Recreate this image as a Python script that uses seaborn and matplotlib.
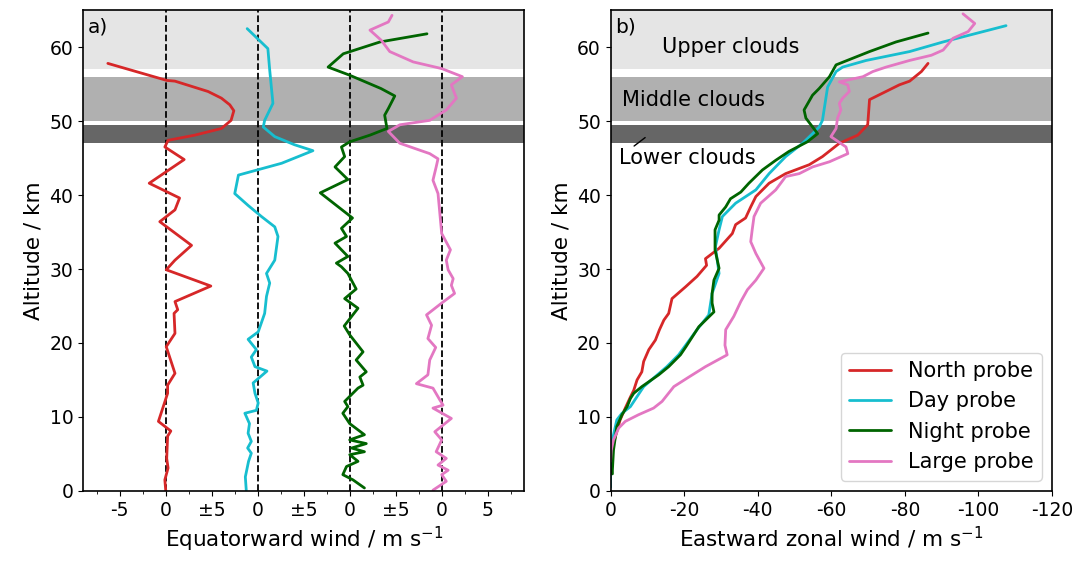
import numpy as np
import pandas as pd
import seaborn as sns
import matplotlib.pyplot as plt
from matplotlib.ticker import MultipleLocator

# Probe names and colours
probes = ['North probe', 'Day probe', 'Night probe', 'Large probe']
colors = ['#d62728', '#17becf', '#006400', '#e377c2']
offsets = [0, 10, 20, 30]

# Equatorward wind profiles (m/s) vs altitude (km)
north_eq_alt = [57.8, 55.5, 55.4, 54.0, 53.1, 52.2, 51.4, 50.1, 49.0, 48.1, 47.4, 46.5, 44.8, 41.6, 39.6,
                38.0, 36.4, 33.2, 31.2, 29.9, 27.7, 25.6, 24.5, 24.0, 21.3, 19.5, 15.9, 14.3, 13.2, 9.4,
                8.1, 7.4, 4.4, 3.1, 1.5, 0.0]
north_eq = [-6.3, 0.1, 1.0, 4.6, 6.05, 6.96, 7.4, 7.1, 6.05, 3.15, 0.25, -0.1, 2.0, -1.8, 1.5,
            1.0, -0.65, 2.8, 1.0, 0.05, 4.9, 1.0, 1.3, 0.9, 1.0, 0.05, 1.0, 0.2, 0.2, -0.8,
            0.55, 0.2, 0.1, 0.25, -0.1, 0.0]

day_eq_alt = [62.5, 59.8, 56.9, 52.4, 50.1, 49.2, 47.9, 46.8, 46.0, 44.3, 42.7, 40.2, 38.6, 37.1, 35.7,
              34.4, 31.2, 29.4, 28.1, 26.3, 24.0, 21.5, 20.5, 19.1, 18.1, 16.8, 16.2, 14.6, 13.2, 11.9,
              10.9, 10.5, 9.1, 7.8, 6.7, 5.8, 5.1, 4.0, 1.9, 0.1]
day_eq = [-1.15, 1.1, 1.3, 1.65, 0.75, 0.6, 1.85, 4.0, 6.0, 2.6, -2.1, -2.5, -1.05, 0.4, 1.85,
          2.2, 1.85, 0.95, 1.3, 0.95, 0.75, 0.05, -1.05, -0.15, -0.7, -0.3, 1.0, -0.5, -0.3, 0.05,
          -0.15, -1.4, -0.9, -1.05, -0.7, -1.1, -0.7, -1.0, -1.35, -1.25]

night_eq_alt = [61.8, 60.7, 59.1, 57.3, 56.2, 54.4, 53.4, 51.7, 50.8, 49.0, 48.1, 47.2, 46.5, 45.2, 43.8,
                42.1, 40.3, 36.9, 35.5, 34.4, 33.5, 31.7, 30.8, 30.3, 29.4, 27.3, 26.0, 24.7, 22.3, 21.1,
                18.8, 17.7, 16.1, 15.4, 14.3, 13.9, 12.1, 11.4, 10.5, 9.1, 7.6, 6.9, 6.4, 5.8, 5.3,
                4.9, 4.0, 3.3, 2.2, 1.5, 0.4]
night_eq = [8.4, 3.3, -0.7, -2.35, 0.0, 3.4, 4.9, 4.2, 3.8, 4.05, 2.2, 0.0, -0.9, -0.55, -1.6,
            -0.2, -3.2, 0.3, -0.9, -0.35, -1.6, -0.2, -1.45, -0.9, -0.2, 0.7, -0.55, 0.9, -0.6, 0.0,
            1.45, 0.7, 1.8, 1.1, 1.45, 0.9, -0.55, -0.2, -0.75, 0.0, 1.6, 0.0, 1.8, 0.2, 1.6,
            0.0, 0.9, -0.35, -0.75, 0.35, 1.6]

large_eq_alt = [64.3, 63.4, 62.3, 60.9, 59.4, 58.0, 57.1, 56.0, 54.9, 53.1, 51.5, 50.1, 49.5, 48.6, 47.0,
                45.6, 44.9, 43.8, 42.0, 40.2, 37.5, 34.8, 32.6, 31.2, 29.9, 28.7, 27.8, 26.7, 25.4, 23.8,
                22.4, 20.6, 19.4, 17.7, 15.7, 14.5, 13.9, 12.3, 11.6, 11.2, 9.8, 8.0, 6.9, 5.3, 4.4,
                3.5, 2.8, 2.2, 1.3, 0.1]
large_eq = [-5.4, -5.8, -7.8, -6.55, -5.65, -3.1, 0.0, 2.25, 1.05, 1.6, 0.5, -1.3, -4.55, -5.8, -4.55,
            -1.3, -0.4, -0.6, -0.95, -0.4, -0.2, 0.0, 0.95, 0.5, 0.7, 1.25, 1.05, 1.4, 0.0, -1.65,
            -1.1, -1.5, -0.65, -1.3, -1.5, -2.75, -0.95, -0.2, 0.15, -0.95, 1.05, -0.75, 0.0, -0.6, 0.5,
            -0.4, 0.7, 0.0, 0.5, -0.95]

# Eastward zonal wind profiles (m/s) vs altitude (km)
north_zon_alt = [57.8, 56.7, 55.4, 54.9, 52.9, 49.5, 48.1, 47.0, 45.2, 44.1, 42.9, 41.6, 39.8, 38.4, 36.9,
                 36.0, 34.8, 32.8, 31.4, 30.5, 29.0, 27.6, 26.0, 24.0, 23.1, 21.8, 20.4, 19.1, 17.5, 16.1,
                 15.0, 13.6, 12.7, 11.2, 9.6, 6.4, 3.7]
north_zon = [-86.3, -84.5, -81.3, -78.5, -70.4, -69.9, -67.2, -62.2, -57.6, -54.0, -47.6, -43.1, -39.5, -38.1, -36.7,
             -34.0, -33.1, -29.5, -25.8, -26.1, -23.5, -20.4, -16.7, -15.8, -14.5, -13.3, -12.2, -10.4, -9.0, -8.5,
             -7.2, -6.3, -5.4, -4.0, -2.6, -0.8, 0.0]

day_zon_alt = [62.9, 60.7, 59.4, 58.2, 57.3, 56.7, 54.6, 50.1, 49.2, 48.3, 47.0, 45.2, 42.9, 40.7, 38.9,
               37.1, 35.3, 33.0, 29.4, 26.7, 23.8, 21.8, 18.4, 16.8, 14.1, 11.4, 10.5, 9.6, 6.9, 4.0, 0.5]
day_zon = [-107.5, -90.4, -81.3, -69.5, -63.1, -61.3, -59.0, -57.6, -56.7, -54.9, -52.2, -47.6, -43.1, -39.5, -34.0,
           -30.4, -29.5, -28.5, -29.5, -27.6, -26.7, -23.5, -18.5, -15.3, -9.0, -5.4, -3.1, -1.7, -0.5, 0.0, 0.0]

night_zon_alt = [61.9, 60.7, 59.4, 57.6, 56.0, 54.4, 53.5, 51.5, 50.4, 48.3, 47.2, 45.9, 44.7, 43.4, 41.6,
                 40.4, 39.5, 38.4, 37.3, 36.6, 35.3, 32.6, 30.1, 28.5, 26.7, 25.4, 24.2, 22.2, 19.5, 18.4,
                 16.8, 15.7, 14.1, 13.2, 12.5, 11.4, 10.3, 8.7, 5.5, 2.8, 2.3]
night_zon = [-86.3, -77.6, -70.4, -61.3, -59.5, -56.7, -54.9, -52.6, -53.1, -56.3, -53.5, -48.5, -44.9, -41.3, -37.6,
             -35.4, -32.6, -31.3, -29.5, -29.5, -28.4, -28.4, -29.5, -28.1, -27.6, -27.6, -28.1, -24.0, -20.5, -19.0,
             -15.8, -13.1, -8.5, -6.3, -5.4, -4.5, -3.1, -1.7, -0.8, -0.5, -0.5]

large_zon_alt = [64.5, 63.2, 62.1, 61.2, 59.6, 58.9, 58.2, 57.3, 56.7, 56.0, 55.3, 54.9, 54.0, 53.1, 52.4,
                 51.5, 50.4, 49.0, 47.9, 46.5, 45.6, 44.5, 43.8, 42.9, 42.5, 40.7, 38.9, 37.1, 35.3, 33.7,
                 32.1, 30.1, 28.5, 27.2, 25.6, 23.6, 21.8, 19.7, 18.4, 16.8, 15.4, 14.1, 12.1, 11.2, 10.3,
                 9.4, 8.5, 6.9, 5.5, 4.0]
large_zon = [-95.8, -99.0, -97.2, -93.1, -90.4, -87.2, -81.3, -74.9, -71.3, -68.6, -62.2, -64.5, -64.9, -63.1, -62.2,
             -62.6, -61.7, -61.3, -59.9, -64.0, -64.5, -59.5, -54.9, -51.3, -47.6, -44.9, -40.8, -39.0, -38.5, -38.1,
             -39.5, -41.7, -39.5, -37.2, -35.4, -33.5, -31.3, -31.1, -31.7, -25.8, -21.3, -17.2, -14.0, -11.7, -7.6,
             -4.0, -2.2, -0.8, -0.2, 0.0]

eq_data = [(north_eq_alt, north_eq), (day_eq_alt, day_eq), (night_eq_alt, night_eq), (large_eq_alt, large_eq)]
zon_data = [(north_zon_alt, north_zon), (day_zon_alt, day_zon), (night_zon_alt, night_zon), (large_zon_alt, large_zon)]

# Cloud layers (km)
cloud_layers = [(57, 70, '#e5e5e5'), (50, 56, '#b0b0b0'), (47, 49.5, '#666666')]

sns.set_style('ticks')
plt.rcParams['font.family'] = ['DejaVu Sans']
plt.rcParams['axes.unicode_minus'] = False
for key in ['text.color', 'axes.labelcolor', 'xtick.color', 'ytick.color', 'axes.edgecolor']:
    plt.rcParams[key] = 'black'

fig, (ax1, ax2) = plt.subplots(1, 2, figsize=(10.85, 5.63), dpi=100)
fig.subplots_adjust(left=0.0765, right=0.9696, bottom=0.128, top=0.982, wspace=0.195)

for ax in (ax1, ax2):
    for lo, hi, c in cloud_layers:
        ax.axhspan(lo, hi, color=c, lw=0, zorder=0)

# Panel a: offset equatorward wind profiles
for off in offsets:
    ax1.axvline(off, color='black', ls='--', lw=1.3, zorder=1)
for (alt, v), off, name, c in zip(eq_data, offsets, probes, colors):
    sns.lineplot(x=np.array(v) + off, y=alt, sort=False, estimator=None,
                 color=c, lw=2, ax=ax1, zorder=3)

ax1.set_xlim(-9, 39)
ax1.set_ylim(0, 65)
ax1.set_xticks([-5, 0, 5, 10, 15, 20, 25, 30, 35])
ax1.set_xticklabels(['-5', '0', '±5', '0', '±5', '0', '±5', '0', '5'])
ax1.xaxis.set_minor_locator(MultipleLocator(2.5))
ax1.set_yticks(range(0, 61, 10))
ax1.set_xlabel('Equatorward wind / m s$^{-1}$', fontsize=15.5)
ax1.set_ylabel('Altitude / km', fontsize=15.5)
ax1.text(0.01, 0.985, 'a)', transform=ax1.transAxes, ha='left', va='top', fontsize=14.5)

# Panel b: zonal wind
df_zon = pd.concat([pd.DataFrame({'alt': alt, 'u': u, 'probe': name})
                    for (alt, u), name in zip(zon_data, probes)], ignore_index=True)
sns.lineplot(data=df_zon, x='u', y='alt', hue='probe', hue_order=probes,
             palette=dict(zip(probes, colors)), sort=False, estimator=None,
             lw=2, ax=ax2, zorder=3)

ax2.set_xlim(0, -120)
ax2.set_ylim(0, 65)
ax2.set_xticks(range(0, -121, -20))
ax2.set_yticks(range(0, 61, 10))
ax2.set_xlabel('Eastward zonal wind / m s$^{-1}$', fontsize=15.5)
ax2.set_ylabel('Altitude / km', fontsize=15.5)
ax2.text(0.01, 0.985, 'b)', transform=ax2.transAxes, ha='left', va='top', fontsize=14.5)

ax2.text(-14, 60, 'Upper clouds', ha='left', va='center', fontsize=15)
ax2.text(-3, 52.8, 'Middle clouds', ha='left', va='center', fontsize=15)
ax2.text(-2.3, 45, 'Lower clouds', ha='left', va='center', fontsize=15)
ax2.annotate('', xy=(-10, 48), xytext=(-5.8, 46.4),
             arrowprops=dict(arrowstyle='-', color='black', lw=1))

sns.move_legend(ax2, 'lower right', title=None, fontsize=15, frameon=True)

for ax in (ax1, ax2):
    ax.tick_params(labelsize=13.5)
    for s in ax.spines.values():
        s.set_linewidth(1.2)
        s.set_zorder(5)

plt.savefig('out.png', dpi=100)
